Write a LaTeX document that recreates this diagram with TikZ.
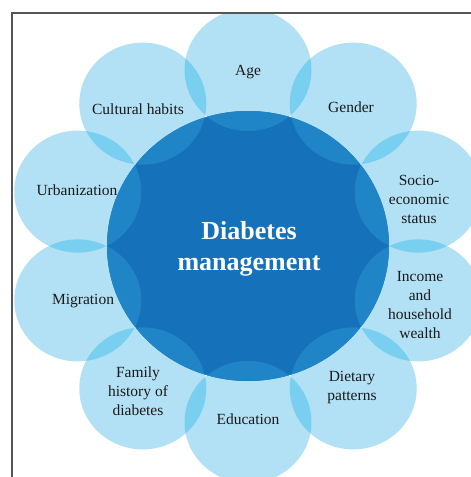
\documentclass[tikz,border=0pt]{standalone}
\usepackage{fontspec}
\setmainfont{Liberation Serif}
\usetikzlibrary{calc}
\definecolor{lightc}{HTML}{B2E1F5}
\definecolor{ovlc}{HTML}{78CFF0}
\definecolor{bigc}{HTML}{1572BA}
\definecolor{bigovlc}{HTML}{1F85C6}
\definecolor{framec}{HTML}{555555}
\definecolor{txtc}{HTML}{1A1A1A}
\tikzset{
  lbl/.style={align=center, text=txtc, font=\fontsize{15.5}{19}\selectfont, inner sep=0pt},
  title/.style={align=center, text=white, font=\bfseries\fontsize{26}{31}\selectfont, inner sep=0pt},
}
\begin{document}
\begin{tikzpicture}[x=1pt,y=-1pt]
\useasboundingbox (0,0) rectangle (471,477);
\fill[white] (0,0) rectangle (471,477);
\coordinate (c) at (248,246);
\foreach \i/\a in {0/-90,1/-54,2/-18,3/18,4/54,5/90,6/126,7/162,8/198,9/234}
  \coordinate (s\i) at ($(c)+({179*cos(\a)},{176*sin(\a)})$);
\begin{scope}
\clip (12,13) rectangle (471,477);
\foreach \i in {0,...,9} \fill[lightc] (s\i) ellipse [x radius=63.5, y radius=61];
\foreach \i in {0,...,9} {
  \pgfmathtruncatemacro{\j}{mod(\i+1,10)}
  \begin{scope}
    \clip (s\i) ellipse [x radius=63.5, y radius=61];
    \fill[ovlc] (s\j) ellipse [x radius=63.5, y radius=61];
  \end{scope}
}
\fill[bigc] (c) ellipse [x radius=141, y radius=135];
\begin{scope}
  \clip (c) ellipse [x radius=141, y radius=135];
  \foreach \i in {0,...,9} \fill[bigovlc] (s\i) ellipse [x radius=63.5, y radius=61];
\end{scope}
\end{scope}
\coordinate (f1) at (12,477);
\coordinate (f2) at (12,13);
\coordinate (f3) at (471,13);
\draw[framec, line width=1.4pt] (f1) -- (f2) -- (f3);
\node[title] (t) at (249,249) {Diabetes\\management};
\node[lbl] (age) at (248,72) {Age};
\node[lbl] (gender) at (351,107) {Gender};
\node[lbl] (socio) at (419,199) {Socio-\\economic\\status};
\node[lbl] (income) at (420,305) {Income\\and\\household\\wealth};
\node[lbl] (diet) at (352,388) {Dietary\\patterns};
\node[lbl] (edu) at (248,419) {Education};
\node[lbl] (family) at (138,391) {Family\\history of\\diabetes};
\node[lbl] (migr) at (83,301) {Migration};
\node[lbl] (urban) at (77,190) {Urbanization};
\node[lbl] (cult) at (138,109) {Cultural habits};
\end{tikzpicture}
\end{document}
